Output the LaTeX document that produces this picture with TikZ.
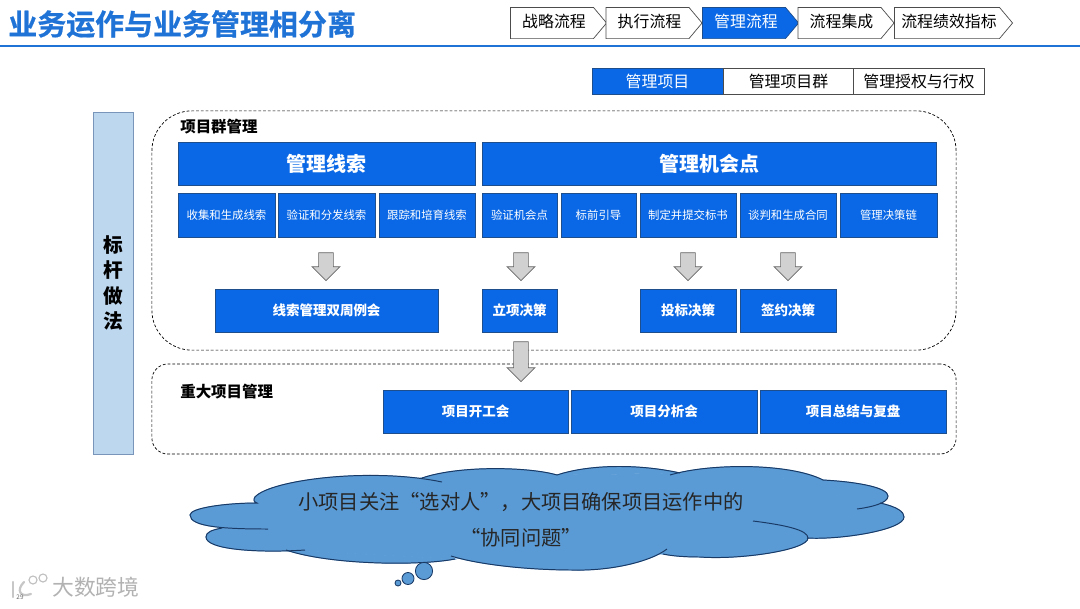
\documentclass[tikz,border=0pt]{standalone}
\usepackage{fontspec}
\setmainfont{Noto Sans CJK SC}
\newfontfamily\heavyfont{Noto Sans CJK SC Bold}[FakeBold=0.7]
\usepackage{tikz}
\usetikzlibrary{shapes.symbols,shapes.arrows}
\definecolor{bluebox}{HTML}{0A68E6}
\definecolor{blueedge}{HTML}{1F4E8C}
\definecolor{blueline}{HTML}{1F72D6}
\definecolor{barfill}{HTML}{BDD7EE}
\definecolor{cloudfill}{HTML}{5B9BD5}
\definecolor{cloudedge}{HTML}{1A3A66}
\tikzset{
  box/.style={rectangle, draw=blueedge, line width=0.5pt, fill=bluebox, text=white, inner sep=0pt},
  headbox/.style={box, minimum height=1.08cm, font=\fontsize{14.2}{16}\selectfont\bfseries},
  subbox/.style={box, minimum height=1.1cm, font=\fontsize{8.1}{10}\selectfont},
  resultbox/.style={box, minimum height=1.08cm, font=\fontsize{9.6}{11}\selectfont\bfseries},
  flowtag/.style={signal, signal from=nowhere, signal to=east, signal pointer angle=100, draw=black!70, line width=0.5pt, fill=white, inner sep=0pt, minimum height=0.78cm, text depth=0.13cm, execute at begin node={\hspace{0.1cm}}, font=\fontsize{11.3}{13}\selectfont},
  flowtagon/.style={flowtag, draw=blueedge, fill=bluebox, text=white},
  tabcell/.style={rectangle, draw=black!70, line width=0.5pt, fill=white, inner sep=0pt, minimum height=0.64cm, font=\fontsize{11.3}{13}\selectfont},
  tabcellon/.style={tabcell, draw=blueedge, fill=bluebox, text=white},
  grouplabel/.style={inner sep=0pt, font=\fontsize{11}{13}\selectfont\bfseries},
  grouparea/.style={rectangle, draw=black, dash pattern=on 2pt off 1.4pt, line width=0.5pt, inner sep=0pt},
  downarrow/.style={single arrow, shape border rotate=270, draw=black!60, line width=0.5pt, fill=black!18, inner sep=0.175cm, minimum width=0.7cm, single arrow head extend=0.165cm, single arrow tip angle=90},
  lobe/.style={draw=cloudedge, line width=0.7pt},
  lobefill/.style={fill=cloudfill, draw=cloudfill, line width=0.6pt},
  bubble/.style={circle, draw=cloudedge, line width=0.6pt, fill=cloudfill, inner sep=0pt},
  logopart/.style={draw=black!22, line width=1.6pt, line cap=round}
}
\newcommand{\lobeA}{(255,497) .. controls (270,480) and (370,467) .. (442,482)}
\newcommand{\lobeB}{(422,478) .. controls (460,465) and (530,467) .. (557,475)}
\newcommand{\lobeC}{(557,475) .. controls (590,464) and (640,464) .. (680,473)}
\newcommand{\lobeD}{(670,475) .. controls (710,463) and (790,463) .. (823,480)}
\newcommand{\lobeE}{(823,480) .. controls (860,482) and (888,488) .. (888,496) .. controls (888,503) and (872,507) .. (857,509)}
\newcommand{\lobeF}{(880,503) .. controls (898,507) and (904,512) .. (904,517) .. controls (904,530) and (840,540) .. (807,538)}
\newcommand{\lobeG}{(753,521) .. controls (785,525) and (808,530) .. (808,538) .. controls (808,550) and (740,560) .. (700,557) .. controls (685,557) and (672,556) .. (663,554)}
\newcommand{\lobeH}{(667,549) .. controls (650,562) and (610,571) .. (573,570) .. controls (530,570) and (480,565) .. (451,556)}
\newcommand{\lobeI}{(455,559) .. controls (420,566) and (330,565) .. (286,550)}
\newcommand{\lobeJ}{(305,550) .. controls (260,553) and (206,550) .. (206,537) .. controls (206,532) and (212,530) .. (222,528)}
\newcommand{\lobeK}{(268,529) .. controls (225,529) and (190,527) .. (190,515) .. controls (190,508) and (225,503) .. (257,503) .. controls (254,502) and (253,500) .. (255,497)}
\begin{document}
\begin{tikzpicture}[x=0.025cm,y=-0.025cm]
  \useasboundingbox (0,0) rectangle (1080,608);
  % title row
  \node[inner sep=0pt, anchor=west, text=blueline, font=\fontsize{20.6}{24}\heavyfont] (title) at (8,24) {业务运作与业务管理相分离};
  \coordinate (ruleL) at (0,46);
  \coordinate (ruleR) at (1080,46);
  \draw[blueline, line width=2.1pt] (ruleL)--(ruleR);
  \node[flowtag, minimum width=2.4cm] (f1) at (552,23) {战略流程};
  \node[flowtag, minimum width=2.4cm] (f2) at (647.5,23) {执行流程};
  \node[flowtagon, minimum width=2.4cm] (f3) at (744,23) {管理流程};
  \node[flowtag, minimum width=2.4cm] (f4) at (839.5,23) {流程集成};
  \node[flowtag, minimum width=2.95cm] (f5) at (947,23) {流程绩效指标};
  \node[tabcellon, minimum width=3.28cm] (t1) at (657.5,81.5) {管理项目};
  \node[tabcell, minimum width=3.25cm] (t2) at (788.5,81.5) {管理项目群};
  \node[tabcell, minimum width=3.28cm] (t3) at (919,81.5) {管理授权与行权};
  % left bar
  \node[rectangle, draw=blueedge!60, line width=0.5pt, fill=barfill, minimum width=1cm, minimum height=8.55cm, inner sep=0pt, align=center, font=\fontsize{14}{18.2}\selectfont\bfseries] (bar) at (113,283) {标\\杆\\做\\法};
  % dashed areas
  \node[grouparea, rounded corners=1cm, minimum width=20.1cm, minimum height=5.98cm] (area1) at (554,230.5) {};
  \node[grouparea, rounded corners=0.4cm, minimum width=20.1cm, minimum height=2.25cm] (area2) at (554,409) {};
  \node[grouplabel, anchor=west] (lab1) at (180,127) {项目群管理};
  \node[grouplabel, anchor=west] (lab2) at (180,392) {重大项目管理};
  % boxes
  \node[headbox, minimum width=7.43cm] (lead) at (326.5,163.5) {管理线索};
  \node[headbox, minimum width=11.35cm] (chance) at (709.5,163.5) {管理机会点};
  \node[subbox, minimum width=2.43cm] (s1) at (226.5,215) {收集和生成线索};
  \node[subbox, minimum width=2.43cm] (s2) at (326.5,215) {验证和分发线索};
  \node[subbox, minimum width=2.4cm] (s3) at (427,215) {跟踪和培育线索};
  \node[subbox, minimum width=1.88cm] (s4) at (519.5,215) {验证机会点};
  \node[subbox, minimum width=1.88cm] (s5) at (598.5,215) {标前引导};
  \node[subbox, minimum width=2.4cm] (s6) at (688,215) {制定并提交标书};
  \node[subbox, minimum width=2.4cm] (s7) at (788,215) {谈判和生成合同};
  \node[subbox, minimum width=2.43cm] (s8) at (888.5,215) {管理决策链};
  \node[resultbox, minimum width=5.58cm] (r1) at (326.5,310.5) {线索管理双周例会};
  \node[resultbox, minimum width=1.88cm] (r2) at (519.5,310.5) {立项决策};
  \node[resultbox, minimum width=2.4cm] (r3) at (688,310.5) {投标决策};
  \node[resultbox, minimum width=2.4cm] (r4) at (788,310.5) {签约决策};
  \node[resultbox, minimum width=4.63cm] (b1) at (475.5,411.5) {项目开工会};
  \node[resultbox, minimum width=4.65cm] (b2) at (664,411.5) {项目分析会};
  \node[resultbox, minimum width=4.65cm] (b3) at (853,411.5) {项目总结与复盘};
  % block arrows
  \node[downarrow, minimum height=0.7cm] (a1) at (326,263) {};
  \node[downarrow, minimum height=0.7cm] (a2) at (521,263) {};
  \node[downarrow, minimum height=0.7cm] (a3) at (688,263) {};
  \node[downarrow, minimum height=0.7cm] (a4) at (788,263) {};
  \node[downarrow, minimum height=1cm] (a5) at (521,358) {};
  % cloud
  \path[lobefill] \lobeA -- cycle;
  \path[lobefill] \lobeB -- cycle;
  \path[lobefill] \lobeC -- cycle;
  \path[lobefill] \lobeD -- cycle;
  \path[lobefill] \lobeE -- cycle;
  \path[lobefill] \lobeF -- cycle;
  \path[lobefill] \lobeG -- cycle;
  \path[lobefill] \lobeH -- cycle;
  \path[lobefill] \lobeI -- cycle;
  \path[lobefill] \lobeJ -- cycle;
  \path[lobefill] \lobeK -- cycle;
  \path[lobefill] (255,497) -- (430,477) -- (557,475) -- (675,473.5) -- (823,480) -- (857,509) -- (880,503) -- (807,538) -- (753,521) -- (663,554) -- (451,556) -- (455,559) -- (286,550) -- (305,550) -- (222,528) -- (268,529) -- cycle;
  \draw[lobe] \lobeA;
  \draw[lobe] \lobeB;
  \draw[lobe] \lobeC;
  \draw[lobe] \lobeD;
  \draw[lobe] \lobeE;
  \draw[lobe] \lobeF;
  \draw[lobe] \lobeG;
  \draw[lobe] \lobeH;
  \draw[lobe] \lobeI;
  \draw[lobe] \lobeJ;
  \draw[lobe] \lobeK;
  \node[inner sep=0pt, align=center, text=black!85, font=\fontsize{14.4}{25.6}\selectfont] (say) at (521,520) {小项目关注“选对人”，大项目确保项目运作中的\\“协同问题”};
  \node[bubble, minimum size=0.43cm] (b1a) at (424,571) {};
  \node[bubble, minimum size=0.3cm] (b2a) at (408,578.5) {};
  \node[bubble, minimum size=0.15cm] (b3a) at (398,583) {};
  % watermark
  \draw[logopart] (13,582) -- (13,597);
  \draw[logopart] (24,582) .. controls (16,590) and (20,598) .. (31,594);
  \node[circle, draw=black!25, line width=0.8pt, minimum size=0.2cm, inner sep=0pt] (m1) at (33,580) {};
  \node[circle, draw=black!25, line width=0.8pt, minimum size=0.2cm, inner sep=0pt] (m2) at (43,578) {};
  \node[inner sep=0pt, anchor=west, text=black!30, font=\fontsize{15.5}{18}\selectfont] (mark) at (52,587) {大数跨境};
  \node[inner sep=0pt, text=black!60, font=\fontsize{4.5}{5}\selectfont] (page) at (20,597) {29};
\end{tikzpicture}
\end{document}
